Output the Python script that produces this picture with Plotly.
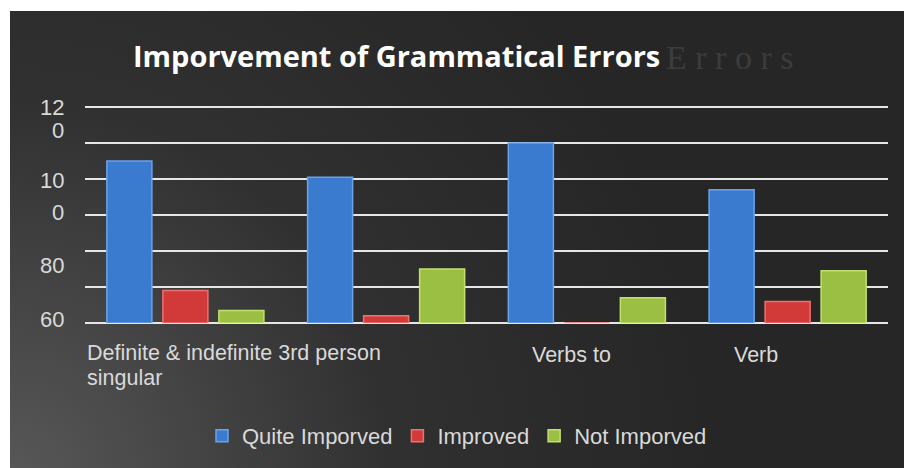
import base64
import plotly.graph_objects as go

# ---- data ----
categories = ["Definite & indefinite", "3rd person singular", "Verbs to", "Verb"]
series_names = ["Quite Imporved", "Improved", "Not Imporved"]
quite_improved = [90, 81, 100, 74]
improved = [18, 4, 0, 12]
not_improved = [7, 30, 14, 29]

# visible (garbled) tick labels as they appear in the picture
y_label_texts = ["12", "0", "10", "0", "80", "60"]
y_label_vals = [120, 107, 79, 61.4, 32.2, 1.9]
x_label_lines = ["Definite & indefinite 3rd person", "singular", "Verbs to", "Verb"]

colors = ["#3a7bd0", "#d23a3a", "#9bbf42"]
line_colors = ["#6aa3e8", "#ee7070", "#c2e070"]

W, H = 904, 468
L, R, T, B = 85, 16, 105, 145
pw, ph = W - L - R, H - T - B
ytop = ph / 1.8


def px_x(p):
    return (p - L) / pw


def px_y(p):
    return (H - B - p) / ph


fig = go.Figure()
for name, vals, c, lc in zip(series_names, [quite_improved, improved, not_improved], colors, line_colors):
    fig.add_trace(go.Bar(x=categories, y=vals, name=name,
                         marker=dict(color=c, line=dict(color=lc, width=1.5))))

# gradient background via SVG
bw, bh = 930, 480
svg = f'''<svg xmlns="http://www.w3.org/2000/svg" width="{bw}" height="{bh}" viewBox="0 0 {bw} {bh}">
<defs><radialGradient id="g" gradientUnits="userSpaceOnUse" cx="0" cy="470" r="700">
<stop offset="0" stop-color="#585858"/><stop offset="0.55" stop-color="#303030"/><stop offset="1" stop-color="#262626"/>
</radialGradient></defs><rect width="{bw}" height="{bh}" fill="url(#g)"/></svg>'''
src = "data:image/svg+xml;base64," + base64.b64encode(svg.encode()).decode()
fig.add_layout_image(dict(source=src, xref="paper", yref="paper",
                          x=px_x(10), y=px_y(11),
                          sizex=bw / pw, sizey=bh / ph,
                          sizing="stretch", layer="below", xanchor="left", yanchor="top"))

# white page margins (top and left) around the dark chart area
fig.add_shape(type="rect", xref="paper", yref="paper", x0=px_x(-5), x1=px_x(910),
              y0=px_y(11), y1=px_y(-5), fillcolor="#ffffff", line_width=0, layer="below")
fig.add_shape(type="rect", xref="paper", yref="paper", x0=px_x(-5), x1=px_x(10),
              y0=px_y(475), y1=px_y(-5), fillcolor="#ffffff", line_width=0, layer="below")

annotations = []
# ghost text
annotations.append(dict(text="E r r o r s", xref="paper", yref="paper",
                        x=px_x(729), y=px_y(57), showarrow=False,
                        font=dict(family="Liberation Serif", size=34, color="#3c3c3c"),
                        xanchor="center", yanchor="middle"))
# title
annotations.append(dict(text="<b>Imporvement of Grammatical Errors</b>", xref="paper", yref="paper",
                        x=px_x(396), y=px_y(55), showarrow=False,
                        font=dict(family="Open Sans", size=29, color="#ffffff"),
                        xanchor="center", yanchor="middle"))
# y labels
for t, v in zip(y_label_texts, y_label_vals):
    annotations.append(dict(text=t, xref="paper", yref="y", x=px_x(66), y=v,
                            showarrow=False, xanchor="right", yanchor="middle", align="right",
                            font=dict(family="Liberation Sans", size=22, color="#d9d9d9")))
# x labels (one annotation per visible line)
x_label_pos = [(87, 353), (87, 378), (532, 355), (734, 355)]
for t, (px, py) in zip(x_label_lines, x_label_pos):
    annotations.append(dict(text=t, xref="paper", yref="paper", x=px_x(px - 2),
                            y=px_y(py), showarrow=False, xanchor="left", yanchor="middle",
                            align="left",
                            font=dict(family="Liberation Sans", size=21.5, color="#d9d9d9")))

fig.update_layout(
    width=W, height=H,
    margin=dict(l=L, r=R, t=T, b=B, pad=0),
    paper_bgcolor="#262626", plot_bgcolor="rgba(0,0,0,0)",
    barmode="group", bargap=0.163, bargroupgap=0.196,
    showlegend=True,
    legend=dict(orientation="h", xref="container", yref="container",
                x=457 / W, y=1 - 436 / H, xanchor="center", yanchor="middle",
                font=dict(family="Liberation Sans", size=22, color="#d9d9d9"),
                bgcolor="rgba(0,0,0,0)", itemwidth=30, tracegroupgap=0),
    annotations=annotations,
    xaxis=dict(showticklabels=False, showgrid=False, zeroline=False, showline=False, ticks=""),
    yaxis=dict(range=[0, ytop], tick0=0, dtick=20, showticklabels=False, showgrid=True,
               gridcolor="#e6e6e6", gridwidth=2, zeroline=True, zerolinecolor="#e6e6e6",
               zerolinewidth=2, ticks=""),
)

fig.write_html("out.html", config={"displayModeBar": False},
               post_script="document.documentElement.style.overflow='hidden';"
                           "document.body.style.margin='0';document.body.style.overflow='hidden';"
                           "document.body.style.background='#262626';")
